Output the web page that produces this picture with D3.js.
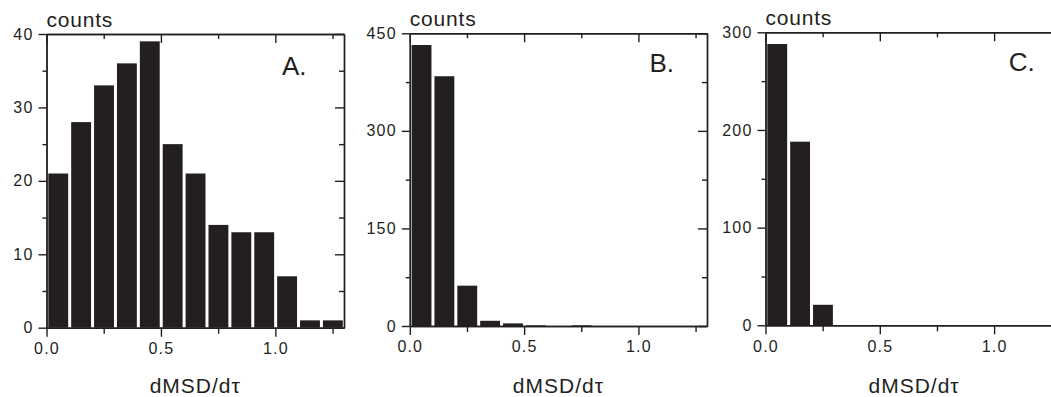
<!DOCTYPE html>
<html>
<head>
    <meta charset="utf-8">
    <title>dMSD/dt histograms</title>
    <script src="https://d3js.org/d3.v7.min.js"></script>
    <style>
      body { margin: 0; background: #fff; }
      text { font-family: "Liberation Sans", Arial, sans-serif; fill: #231f20; }
    </style>
</head>
<body>
<div id="my_dataviz"></div>

<script>

// bins: start of each 0.1-wide bin on dMSD/dtau
var binStarts = [0.0, 0.1, 0.2, 0.3, 0.4, 0.5, 0.6, 0.7, 0.8, 0.9, 1.0, 1.1, 1.2];
var binWidth = 0.1;

// counts
var countsA = [21, 28, 33, 36, 39, 25, 21, 14, 13, 13, 7, 1, 1];
var countsB = [432, 384, 62, 8, 4, 1, 0, 1, 0, 0, 0, 0, 0];
var countsC = [288, 188, 21, 0, 0, 0, 0, 0, 0, 0, 0, 0, 0];

// axis ticks
var xMajor = [0, 0.5, 1.0];
var xMinor = [0.25, 0.75, 1.25];
var xLabels = ["0.0", "0.5", "1.0"];

var yMajorA = [0, 10, 20, 30, 40],  yMinorA = [5, 15, 25, 35];
var yMajorB = [0, 150, 300, 450],   yMinorB = [75, 225, 375];
var yMajorC = [0, 100, 200, 300],   yMinorC = [50, 150, 250];

var panelTags = ["A.", "B.", "C."];
var yTitle = "counts";
var xTitle = "dMSD/d\u03C4";

var ink = "#231f20";

// layout of each panel in page pixels
var panels = [
  { tag: panelTags[0], counts: countsA, major: yMajorA, minor: yMinorA,
    left: 46.5, right: 344, top: 34, bottom: 327.7, tagDx: 37.5, tagY: 75 },
  { tag: panelTags[1], counts: countsB, major: yMajorB, minor: yMinorB,
    left: 409.8, right: 707, top: 33.3, bottom: 326, tagDx: 33, tagY: 71.7 },
  { tag: panelTags[2], counts: countsC, major: yMajorC, minor: yMinorC,
    left: 765.5, right: 1062.7, top: 32.3, bottom: 325.3, tagDx: 28, tagY: 71 }
];

var svg = d3.select("#my_dataviz")
  .append("svg")
    .attr("width", 1051)
    .attr("height", 397);

panels.forEach(function(p) {
  var g = svg.append("g");

  var x = d3.scaleLinear()
    .domain([0, 1.3])
    .range([p.left, p.right]);

  var y = d3.scaleLinear()
    .domain([0, d3.max(p.major)])
    .range([p.bottom, p.top]);

  // bars
  g.selectAll("rect")
    .data(binStarts)
    .enter()
    .append("rect")
      .attr("x", function(d) { return x(d) + 1.8; })
      .attr("width", function(d) { return x(d + binWidth) - x(d) - 3; })
      .attr("y", function(d, i) { return y(p.counts[i]); })
      .attr("height", function(d, i) { return y(0) - y(p.counts[i]); })
      .attr("fill", ink);

  // bottom axis (outward ticks, labels)
  g.append("g")
    .attr("transform", "translate(0," + p.bottom + ")")
    .call(d3.axisBottom(x).tickValues(xMajor).tickSize(9).tickSizeOuter(0)
      .tickPadding(6)
      .tickFormat(function(d, i) { return xLabels[i]; }));
  g.append("g")
    .attr("transform", "translate(0," + p.bottom + ")")
    .call(d3.axisBottom(x).tickValues(xMinor).tickSize(6).tickSizeOuter(0).tickFormat(""));

  // top axis (inward ticks)
  g.append("g")
    .attr("transform", "translate(0," + p.top + ")")
    .call(d3.axisTop(x).tickValues(xMajor).tickSize(-9).tickSizeOuter(0).tickFormat(""));
  g.append("g")
    .attr("transform", "translate(0," + p.top + ")")
    .call(d3.axisTop(x).tickValues(xMinor).tickSize(-5).tickSizeOuter(0).tickFormat(""));

  // left axis (outward ticks, labels)
  g.append("g")
    .attr("transform", "translate(" + p.left + ",0)")
    .call(d3.axisLeft(y).tickValues(p.major).tickSize(8).tickSizeOuter(0)
      .tickPadding(5).tickFormat(d3.format("d")));
  g.append("g")
    .attr("transform", "translate(" + p.left + ",0)")
    .call(d3.axisLeft(y).tickValues(p.minor).tickSize(4).tickSizeOuter(0).tickFormat(""));

  // right axis (inward ticks)
  g.append("g")
    .attr("transform", "translate(" + p.right + ",0)")
    .call(d3.axisRight(y).tickValues(p.major).tickSize(-9).tickSizeOuter(0).tickFormat(""));
  g.append("g")
    .attr("transform", "translate(" + p.right + ",0)")
    .call(d3.axisRight(y).tickValues(p.minor).tickSize(-5).tickSizeOuter(0).tickFormat(""));

  g.selectAll(".domain, .tick line")
    .attr("stroke", ink)
    .attr("stroke-width", 1.4);
  g.selectAll(".tick text")
    .attr("fill", ink)
    .style("font-family", "'Liberation Sans', Arial, sans-serif")
    .style("font-size", "16px")
    .style("letter-spacing", "1.2px");

  // y title above the axis
  g.append("text")
    .attr("x", p.left)
    .attr("y", p.top - 7)
    .style("font-size", "21px")
    .style("letter-spacing", "0.8px")
    .text(yTitle);

  // x title
  g.append("text")
    .attr("x", (p.left + p.right) / 2 + (p.right > 1051 ? 0 : 0))
    .attr("y", 393)
    .attr("text-anchor", "middle")
    .style("font-size", "21px")
    .style("letter-spacing", "1px")
    .text(xTitle);

  // panel tag
  g.append("text")
    .attr("x", p.right - p.tagDx)
    .attr("y", p.tagY)
    .attr("text-anchor", "end")
    .style("font-size", "26px")
    .text(p.tag);
});

</script>
</body>
</html>
